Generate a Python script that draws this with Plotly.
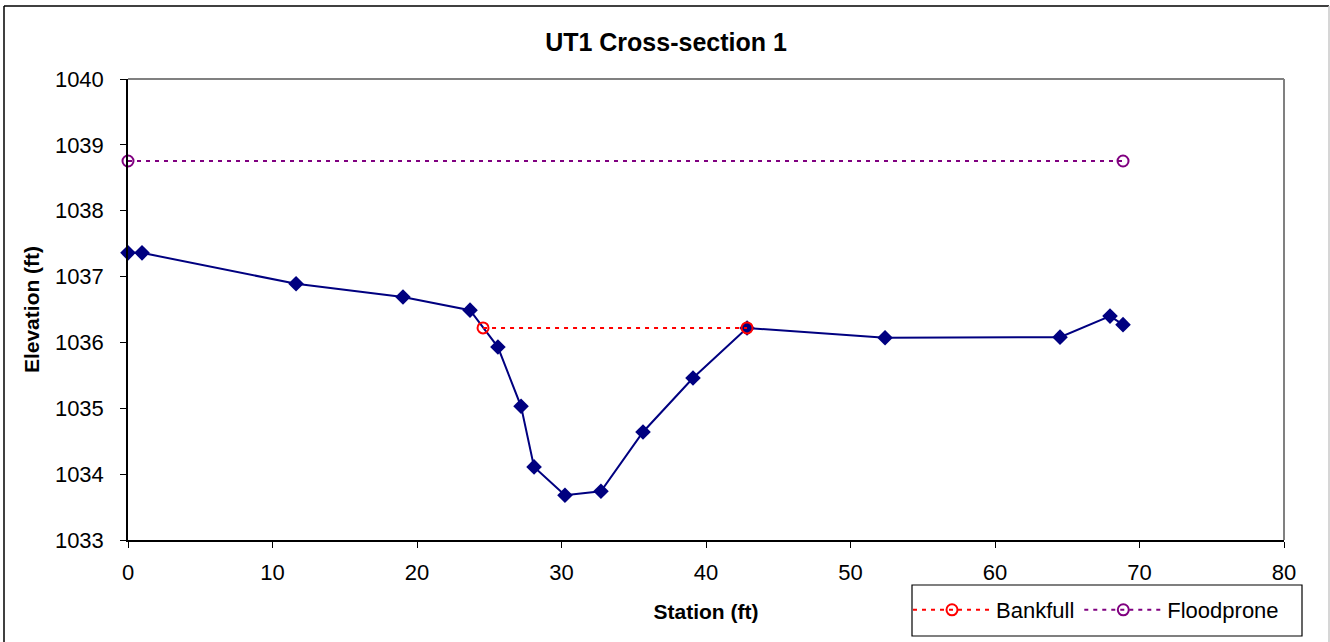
import plotly.graph_objects as go

# Data
station = [0, 0.97, 11.63, 19.03, 23.67, 25.6, 27.2, 28.1, 30.24, 32.73, 35.64, 39.1, 42.84, 52.39, 64.5, 67.96, 68.86]
elevation = [1037.36, 1037.36, 1036.89, 1036.69, 1036.49, 1035.93, 1035.03, 1034.11, 1033.68, 1033.74,
             1034.64, 1035.46, 1036.22, 1036.07, 1036.08, 1036.40, 1036.27]
bankfull_x = [24.57, 42.84]
bankfull_y = [1036.22, 1036.22]
floodprone_x = [0, 68.86]
floodprone_y = [1038.755, 1038.755]

FONT = "Liberation Sans, Arial, sans-serif"

# plot-area pixel geometry used for paper-coordinate conversions
PL, PR, PT, PB = 128, 1284, 79, 540
PW, PH = PR - PL, PB - PT


def px(xp):
    return (xp - PL) / PW


def py(yp):
    return (PB - yp) / PH


fig = go.Figure()
fig.add_trace(go.Scatter(
    x=station, y=elevation, mode="lines+markers", name="Ground",
    line=dict(color="#000080", width=2),
    marker=dict(symbol="diamond", size=12, color="#000080"),
    showlegend=False, cliponaxis=False))
fig.add_trace(go.Scatter(
    x=bankfull_x, y=bankfull_y, mode="lines+markers", name="Bankfull",
    line=dict(color="#FF0000", width=2, dash="4px,5px"),
    marker=dict(symbol="circle-open", size=11, color="#FF0000", line=dict(width=2)),
    cliponaxis=False))
fig.add_trace(go.Scatter(
    x=floodprone_x, y=floodprone_y, mode="lines+markers", name="Floodprone",
    line=dict(color="#800080", width=2, dash="4px,5px"),
    marker=dict(symbol="circle-open", size=11, color="#800080", line=dict(width=2)),
    cliponaxis=False))

fig.update_layout(
    width=1330, height=642,
    margin=dict(l=PL, r=1330 - PR, t=PT, b=642 - PB, autoexpand=False),
    paper_bgcolor="white", plot_bgcolor="white",
    font=dict(family=FONT, size=22, color="black"),
    title=dict(text="<b>UT1 Cross-section 1</b>", xref="container", x=666 / 1330, xanchor="center",
               yref="container", y=1 - 42 / 642, yanchor="middle", font=dict(size=25)),
    xaxis=dict(range=[0, 80], tickmode="array", tickvals=[0, 10, 20, 30, 40, 50, 60, 70, 80],
               showgrid=False, zeroline=False, showline=True, linecolor="black", linewidth=1.5,
               ticks="outside", ticklen=6, tickcolor="black", ticklabelstandoff=6,
               title=dict(text="<b>Station (ft)</b>", font=dict(size=21), standoff=20)),
    yaxis=dict(range=[1033, 1040], tickmode="array", tickvals=list(range(1033, 1041)),
               showgrid=False, zeroline=False, showline=True, linecolor="black", linewidth=1.5,
               ticks="outside", ticklen=6, tickcolor="black", tickformat="d", ticklabelstandoff=12,
               title=dict(text="<b>Elevation (ft)</b>", font=dict(size=21), standoff=10)),
    legend=dict(orientation="h", x=px(908), xanchor="left", y=py(589), yanchor="top",
                borderwidth=0, bgcolor="rgba(0,0,0,0)", font=dict(size=22),
                itemwidth=78),
    shapes=[
        # legend box
        dict(type="rect", xref="paper", yref="paper",
             x0=px(912), x1=px(1302), y0=py(636), y1=py(585),
             line=dict(color="black", width=1.2), fillcolor="white", layer="below"),
        # plot area top/right (grey)
        dict(type="line", xref="paper", yref="paper", x0=0, x1=1, y0=1, y1=1,
             line=dict(color="#808080", width=2)),
        dict(type="line", xref="paper", yref="paper", x0=1, x1=1, y0=0, y1=1,
             line=dict(color="#808080", width=2)),
        # outer chart border
        dict(type="line", xref="paper", yref="paper",
             x0=px(4), x1=px(1329), y0=py(6), y1=py(6),
             line=dict(color="black", width=1.5)),
        dict(type="line", xref="paper", yref="paper",
             x0=px(4), x1=px(4), y0=py(660), y1=py(6),
             line=dict(color="black", width=1.5)),
        dict(type="line", xref="paper", yref="paper",
             x0=px(1329), x1=px(1329), y0=py(660), y1=py(6),
             line=dict(color="#c8c8c8", width=1.5)),
    ],
)

fig.write_html("out.html", config={"displayModeBar": False},
               post_script="document.body.style.margin='0';document.body.style.padding='0';"
                           "document.body.style.overflow='hidden';")
